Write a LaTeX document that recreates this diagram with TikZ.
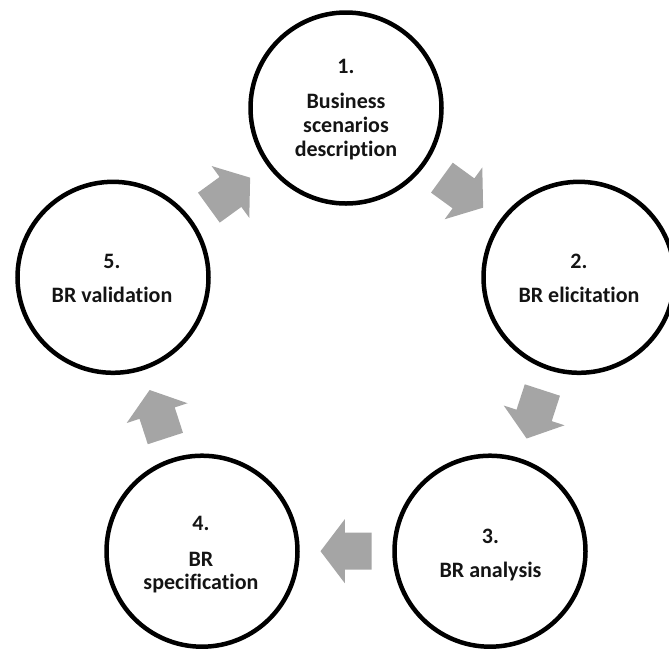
\documentclass[tikz,border=0pt]{standalone}
\usepackage{fontspec}
\setmainfont{Carlito}[Ligatures=NoCommon]
\usetikzlibrary{calc}

\definecolor{flowgray}{HTML}{A5A5A5}

\tikzset{
  stage/.style={circle, draw=black, line width=4.5pt, minimum size=191pt, inner sep=0pt},
  steptext/.style={anchor=base, inner sep=0pt, font=\fontsize{22}{24}\selectfont\bfseries, text=black!92},
}

% Block arrow halfway between two stage circles, pointing from #1 to #2
\newcommand\flowarrow[2]{%
  \coordinate (#1#2m) at ($(#1.center)!0.5!(#2.center)$);
  \coordinate (#1#2tip) at ($(#1#2m)!25.5pt!(#2.center)$);
  \coordinate (#1#2tail) at ($(#1#2m)!25.5pt!(#1.center)$);
  \coordinate (#1#2neck) at ($(#1#2m)!1.2pt!(#2.center)$);
  \fill[flowgray]
    ($(#1#2tail)!18.5pt!90:(#2.center)$) --
    ($(#1#2neck)!18.5pt!90:(#2.center)$) --
    ($(#1#2neck)!32pt!90:(#2.center)$) --
    (#1#2tip) --
    ($(#1#2neck)!32pt!-90:(#2.center)$) --
    ($(#1#2neck)!18.5pt!-90:(#2.center)$) --
    ($(#1#2tail)!18.5pt!-90:(#2.center)$) -- cycle;
}

\begin{document}
\begin{tikzpicture}[x=1pt, y=-1pt]
  \useasboundingbox (0,0) rectangle (669,649);

  % the five stages on a pentagon
  \node[stage] (c1) at (346,108)   {};
  \node[stage] (c2) at (579,277.3) {};
  \node[stage] (c3) at (490,551.2) {};
  \node[stage] (c4) at (202,551.2) {};
  \node[stage] (c5) at (113,277.3) {};

  % arrows of the cycle
  \flowarrow{c1}{c2}
  \flowarrow{c2}{c3}
  \flowarrow{c3}{c4}
  \flowarrow{c4}{c5}
  \flowarrow{c5}{c1}

  % stage texts
  \node[steptext] (n1)  at (346,73)    {1.};
  \node[steptext] (t1a) at (346,108.5) {Business};
  \node[steptext] (t1b) at (346,132.5) {scenarios};
  \node[steptext] (t1c) at (346,156.5) {description};

  \node[steptext] (n2) at (579,268) {2.};
  \node[steptext] (t2) at (579,302) {BR elicitation};

  \node[steptext] (n3) at (490.5,543)   {3.};
  \node[steptext] (t3) at (490.5,577.5) {BR analysis};

  \node[steptext] (n4)  at (201,530.6) {4.};
  \node[steptext] (t4a) at (201,566)   {BR};
  \node[steptext] (t4b) at (201,589.5) {specification};

  \node[steptext] (n5) at (112,268) {5.};
  \node[steptext] (t5) at (112,302) {BR validation};
\end{tikzpicture}
\end{document}
